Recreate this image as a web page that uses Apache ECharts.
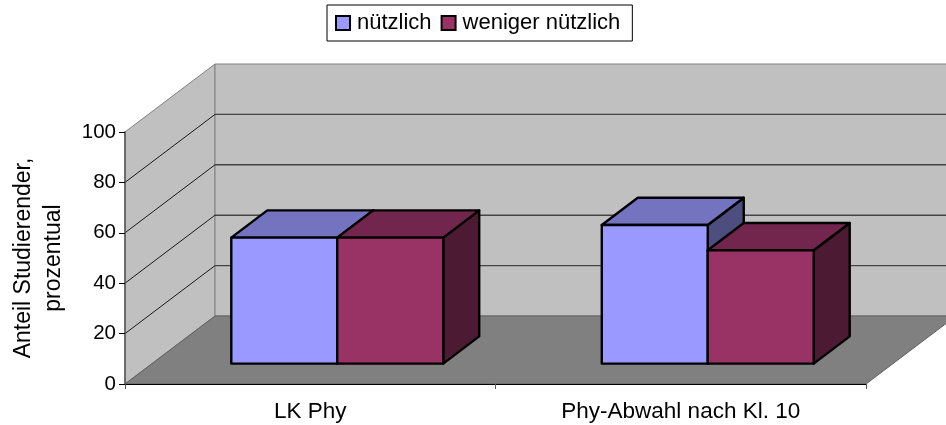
<!DOCTYPE html>
<html><head><meta charset="utf-8">
<style>html,body{margin:0;padding:0;background:#fff}#c{width:946px;height:425px}</style>
<script src="https://cdn.jsdelivr.net/npm/echarts@6/dist/echarts.min.js"></script>
</head><body><div id="c"></div>
<script>
const categories = ['LK Phy', 'Phy-Abwahl nach Kl. 10'];
const nuetzlich = [50, 55];
const wenigerNuetzlich = [50, 45];
const yTicks = [0, 20, 40, 60, 80, 100];

const DEPTH_X = 90, DEPTH_Y = 68;
const FONT = '"Liberation Sans", Arial, sans-serif';

function poly(points, fill, stroke, lw) {
  return { type: 'polygon', shape: { points }, style: { fill, stroke, lineWidth: lw, lineJoin: 'round' } };
}
function line(a, b, stroke, lw) {
  return { type: 'line', shape: { x1: a[0], y1: a[1], x2: b[0], y2: b[1] }, style: { stroke, lineWidth: lw } };
}
function renderWalls(params, api) {
  const cs = params.coordSys, L = cs.x, R = cs.x + cs.width;
  const y0 = api.coord([0, 0])[1], yTop = api.coord([0, 100])[1];
  const back = (x, y) => [x + DEPTH_X, y - DEPTH_Y];
  const children = [
    poly([[L, yTop], back(L, yTop), back(L, y0), [L, y0]], '#c0c0c0', '#808080', 1),
    poly([back(L, yTop), back(R, yTop), back(R, y0), back(L, y0)], '#c0c0c0', '#808080', 1),
    poly([[L, y0], back(L, y0), back(R, y0), [R, y0]], '#808080', '#606060', 1)
  ];
  yTicks.forEach(t => {
    if (t === 0 || t === 100) return;
    const y = api.coord([0, t])[1];
    children.push(line([L, y], back(L, y), '#1a1a1a', 1));
    children.push(line(back(L, y), back(R, y), '#444', 1.4));
  });
  return { type: 'group', children };
}
function makeBar(offsetSign, front, top, side) {
  return function (params, api) {
    const band = api.size([1, 0])[0];
    const barW = band * 0.286;
    const c = api.coord([api.value(0), api.value(1)]);
    const y0 = api.coord([api.value(0), 0])[1];
    const dx0 = DEPTH_X * 0.3, dy0 = DEPTH_Y * 0.3;
    const dx = DEPTH_X * 0.4, dy = DEPTH_Y * 0.4;
    const x1 = c[0] + dx0 + (offsetSign < 0 ? -barW : 0);
    const x2 = x1 + barW;
    const yT = c[1] - dy0, yB = y0 - dy0;
    return { type: 'group', children: [
      poly([[x2, yT], [x2 + dx, yT - dy], [x2 + dx, yB - dy], [x2, yB]], side, '#000', 2.4),
      poly([[x1, yT], [x1 + dx, yT - dy], [x2 + dx, yT - dy], [x2, yT]], top, '#000', 2.4),
      poly([[x1, yT], [x2, yT], [x2, yB], [x1, yB]], front, '#000', 2.4)
    ] };
  };
}
const chart = echarts.init(document.getElementById('c'), null, { renderer: 'canvas' });
chart.setOption({
  animation: false,
  backgroundColor: '#fff',
  grid: { left: 125, right: 80, top: 132, bottom: 41, outerBoundsMode: 'none', containLabel: false },
  legend: {
    left: 327, top: 5, padding: [7, 12, 7, 8], itemGap: 9, itemWidth: 14, itemHeight: 14,
    borderColor: '#000', borderWidth: 1, backgroundColor: '#fff',
    textStyle: { fontFamily: FONT, fontSize: 22, color: '#000', padding: [0, 0, 0, 2] },
    data: [
      { name: 'nützlich', icon: 'rect', itemStyle: { color: '#9999ff', borderColor: '#000', borderWidth: 2 } },
      { name: 'weniger nützlich', icon: 'rect', itemStyle: { color: '#993366', borderColor: '#000', borderWidth: 2 } }
    ]
  },
  xAxis: {
    type: 'category', data: categories,
    axisLine: { lineStyle: { color: '#000', width: 1 } },
    axisTick: { show: true, length: 5, lineStyle: { color: '#555' } },
    axisLabel: { fontFamily: FONT, fontSize: 22.5, color: '#000', margin: 16 }
  },
  yAxis: {
    type: 'value', min: 0, max: 100, interval: 20,
    name: 'Anteil Studierender,\nprozentual', nameLocation: 'middle', nameRotate: 90, nameGap: 56,
    nameTextStyle: { fontFamily: FONT, fontSize: 23, color: '#000', lineHeight: 30 },
    axisLine: { show: true, lineStyle: { color: '#555', width: 1.5 } },
    axisTick: { show: true, length: 6, lineStyle: { color: '#000' } },
    axisLabel: { fontFamily: FONT, fontSize: 20.5, color: '#000', margin: 9 },
    splitLine: { show: false }
  },
  series: [
    { type: 'custom', name: 'walls', z: -1, silent: true, renderItem: renderWalls, data: [[0, 0]], encode: { x: 0, y: 1 } },
    { type: 'custom', name: 'nützlich', z: 3, renderItem: makeBar(-1, '#9999ff', '#7373bf', '#4d4d80'),
      itemStyle: { color: '#9999ff' }, encode: { x: 0, y: 1 }, data: nuetzlich.map((v, i) => [i, v]) },
    { type: 'custom', name: 'weniger nützlich', z: 4, renderItem: makeBar(1, '#993366', '#73264d', '#4d1a33'),
      itemStyle: { color: '#993366' }, encode: { x: 0, y: 1 }, data: wenigerNuetzlich.map((v, i) => [i, v]) }
  ]
});
</script></body></html>
